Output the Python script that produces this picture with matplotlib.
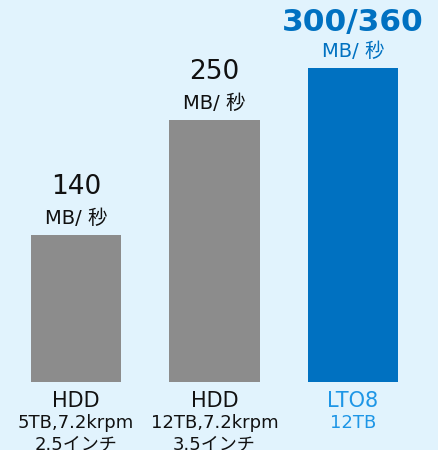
import matplotlib
matplotlib.use("Agg")
import matplotlib.pyplot as plt

plt.rcParams['font.family'] = ['DejaVu Sans', 'Noto Sans CJK JP']

# data
names = ["HDD", "HDD", "LTO8"]
specs = [["5TB,7.2krpm", "2.5インチ"], ["12TB,7.2krpm", "3.5インチ"], ["12TB"]]
speeds = [140, 250, 300]
speed_labels = ["140", "250", "300/360"]
unit = "MB/ 秒"

bg = "#e1f3fd"
bar_colors = ["#8c8c8c", "#8c8c8c", "#0071c1"]
top_colors = ["#111111", "#111111", "#0071c1"]
bottom_colors = ["#111111", "#111111", "#1e96e6"]

fig = plt.figure(figsize=(4.38, 4.5), dpi=100)
fig.patch.set_facecolor(bg)
ax = fig.add_axes([0, 68 / 450, 1, 382 / 450])
ax.set_facecolor(bg)

x = list(range(len(speeds)))
ax.bar(x, speeds, width=0.65, color=bar_colors)
ax.set_xlim(-0.549, 2.614)
ax.set_ylim(0, 365)
ax.axis("off")

px = 72 / 100  # pixels -> points

for i in x:
    big = i == 2
    # value label
    ax.annotate(speed_labels[i], (i, speeds[i]), xytext=(0, (37 if big else 41) * px),
                textcoords="offset points", ha="center", va="baseline",
                fontsize=22.5 if big else 19, fontweight="bold" if big else "normal",
                color=top_colors[i], annotation_clip=False)
    ax.annotate(unit, (i, speeds[i]), xytext=(0, 11 * px),
                textcoords="offset points", ha="center", va="baseline",
                fontsize=14, color=top_colors[i],
                annotation_clip=False)
    # category label under bar
    ax.annotate(names[i], (i, 0), xytext=(0, -25 * px),
                textcoords="offset points", ha="center", va="baseline",
                fontsize=15, color=bottom_colors[i],
                annotation_clip=False)
    for j, s in enumerate(specs[i]):
        ax.annotate(s, (i, 0), xytext=(0, (-46 - 21 * j) * px),
                    textcoords="offset points", ha="center", va="baseline",
                    fontsize=13, color=bottom_colors[i],
                    annotation_clip=False)

fig.savefig("out.png", dpi=100, facecolor=bg)
